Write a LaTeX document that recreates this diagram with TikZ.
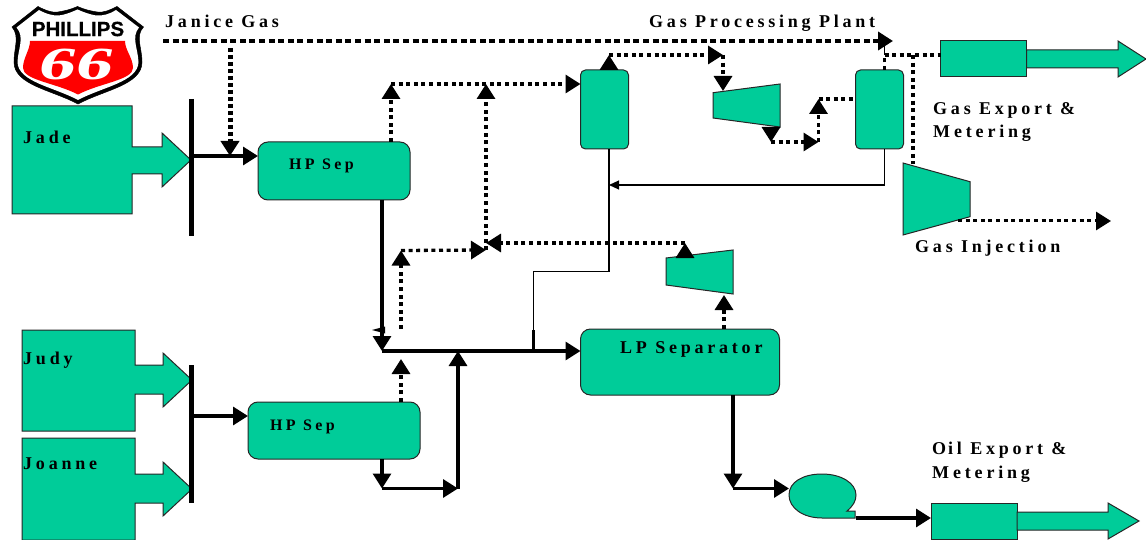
\documentclass[tikz,border=0pt]{standalone}
\usepackage{fontspec}
\setmainfont{Liberation Serif}
\newfontfamily\lblfont[LetterSpace=21,Ligatures=NoCommon]{Liberation Serif Bold}
\newfontfamily\logofont[FakeBold=0.6]{Liberation Sans Bold}
\newfontfamily\logonumfont{Liberation Serif Bold}
\usetikzlibrary{arrows.meta,calc}
\definecolor{eqgreen}{HTML}{00CC99}
\definecolor{logored}{HTML}{FF0000}
\tikzset{
  eq/.style={draw=black!85,fill=eqgreen,line width=1pt},
  tank/.style={eq,rounded corners=5pt,inner sep=0pt,outer sep=0pt},
  sepbox/.style={eq,rounded corners=10pt,inner sep=0pt,outer sep=0pt},
  plainbox/.style={eq,sharp corners,inner sep=0pt,outer sep=0pt},
  hd/.style={-{Triangle[length=15pt,width=18pt]}},
  solidpipe/.style={line width=3.2pt,hd},
  dotpipe/.style={line width=3.3pt,dash pattern=on 4pt off 3.6pt,hd},
  dotplain/.style={line width=3.3pt,dash pattern=on 4pt off 3.6pt},
  thinpipe/.style={line width=1.1pt},
  lbl/.style={anchor=base west,inner sep=0pt,font=\lblfont\fontsize{18}{20}\selectfont},
  lblsm/.style={anchor=base west,inner sep=0pt,font=\lblfont\fontsize{16}{18}\selectfont},
}
\begin{document}
\begin{tikzpicture}[x=1pt,y=-1pt]
\useasboundingbox (0,0) rectangle (1146,540);
% logo
\filldraw[black,line width=0.5pt] (38,6.5) .. controls (46,11) and (54,13) .. (58,12) .. controls (65,11) and (72,9) .. (77.5,6.5)
 .. controls (83,9) and (90,11) .. (97,12) .. controls (104,13) and (110,10) .. (117,6.5)
 -- (143.5,27) .. controls (135,36) and (142,48) .. (142,62) .. controls (142,85) and (104,90) .. (78,104)
 .. controls (52,90) and (14,85) .. (14,62) .. controls (14,48) and (20,36) .. (12,27) -- cycle;
\fill[white] (39,10) .. controls (46,14) and (54,16) .. (59,15.5) .. controls (66,14.5) and (72,12) .. (77.5,9.5)
 .. controls (83,12) and (90,14.5) .. (96,15.5) .. controls (103,16) and (110,14) .. (116,10)
 -- (139,27.5) .. controls (131,37) and (138,49) .. (138.5,62) .. controls (138,82) and (102,87) .. (78,100)
 .. controls (54,87) and (18,82) .. (17.5,62) .. controls (18,49) and (25,37) .. (16.5,27.5) -- cycle;
\fill[logored] (30,41) -- (125,41) .. controls (125,50) and (133,58) .. (133,68) .. controls (133,80) and (100,83) .. (78,94.5)
 .. controls (56,83) and (23,80) .. (23,68) .. controls (23,58) and (30,50) .. (30,41) -- cycle;
\node[inner sep=0pt,font=\logofont\fontsize{20.5}{22}\selectfont] (logotext) at (78,29) {PHILLIPS};
\node[inner sep=0pt,text=white,xslant=0.25,xscale=1.6,transform shape,font=\logonumfont\fontsize{46}{46}\selectfont] (logonum) at (77.5,64) {66};
% feed block arrows
\draw[eq,line join=miter] (12,106) -- (132,106) -- (132,147) -- (162,147) -- (162,133) -- (191,160) -- (162,187) -- (162,174) -- (132,174) -- (132,214) -- (12,214) -- cycle;
\draw[eq] (22,330) -- (135,330) -- (135,365) -- (163,365) -- (163,353) -- (192,380) -- (163,407) -- (163,394) -- (135,394) -- (135,431) -- (22,431) -- cycle;
\draw[eq] (22,438) -- (135,438) -- (135,474) -- (163,474) -- (163,462) -- (192,489) -- (163,516) -- (163,503) -- (135,503) -- (135,540) -- (22,540) -- cycle;
% manifolds
\coordinate (barAt) at (191.5,99); \coordinate (barAb) at (191.5,236);
\coordinate (barBt) at (191.5,365); \coordinate (barBb) at (191.5,503);
\draw[line width=5pt] (barAt) -- (barAb);
\draw[line width=5pt] (barBt) -- (barBb);
% vessels
\node[sepbox,minimum width=152pt,minimum height=58pt] (hpa) at (334,171) {};
\node[sepbox,minimum width=172pt,minimum height=57pt] (hpb) at (334,430.5) {};
\node[sepbox,minimum width=199pt,minimum height=66pt] (lps) at (680,362) {};
\node[tank,minimum width=48pt,minimum height=79pt] (vl) at (604.5,109.5) {};
\node[tank,minimum width=48pt,minimum height=79pt] (vr) at (879.5,109.5) {};
% compressors
\draw[eq] (713,92.7) -- (780,84) -- (780,127) -- (713,118) -- cycle;
\draw[eq] (903,163) -- (970,181.7) -- (970,216.7) -- (903,235) -- cycle;
\draw[eq] (666,258) -- (733,250) -- (733,294) -- (666,285) -- cycle;
% pump
\draw[eq] (855,518) -- (822,518) .. controls (803,518) and (789,508) .. (789,495) .. controls (789,482) and (803,474) .. (822,474)
 .. controls (841,474) and (856,483) .. (856,495) .. controls (856,501) and (853,506) .. (847,511) -- (855,511) -- cycle;
% export boxes
\node[plainbox,minimum width=86pt,minimum height=36pt] (gex) at (983.5,58.5) {};
\draw[eq] (1026.5,50) -- (1118,50) -- (1118,41) -- (1146,59) -- (1118,77) -- (1118,68) -- (1026.5,68) -- cycle;
\node[plainbox,minimum width=86pt,minimum height=36pt] (oex) at (974,521) {};
\draw[eq] (1017,512) -- (1108,512) -- (1108,503) -- (1139,521) -- (1108,539) -- (1108,530) -- (1017,530) -- cycle;
% junctions
\coordinate (jgs) at (163,41); \coordinate (jge) at (893,41);
\coordinate (jb1) at (230,48); \coordinate (jb2) at (230,156);
\coordinate (ma) at (192,156); \coordinate (mb) at (192,416);
\coordinate (a1) at (391,84); \coordinate (a2) at (486,84);
\coordinate (d1) at (401,329); \coordinate (d2) at (401,250.5); \coordinate (d3) at (486,250);
\coordinate (d4) at (486,243);
\coordinate (k3) at (685,243);
\coordinate (main) at (382,351); \coordinate (mid) at (458,351); \coordinate (tee) at (533.5,351);
\coordinate (tee1) at (533.5,330); \coordinate (tee2) at (533.5,271.5); \coordinate (tee3) at (609,271.5);
\coordinate (q1) at (382,488.5); \coordinate (q2) at (458,488.5);
\coordinate (t1) at (609,55); \coordinate (t2) at (723,55); \coordinate (t3) at (723,91);
\coordinate (u1) at (771,127); \coordinate (u2) at (771,142); \coordinate (u3) at (818.5,142); \coordinate (u4) at (818.5,99);
\coordinate (r1) at (884.5,55); \coordinate (r2) at (913,55); \coordinate (r3) at (913,164);
\coordinate (ret) at (884.5,185); \coordinate (retv) at (609,185);
\coordinate (inj1) at (958,221); \coordinate (inj2) at (1111,221);
\coordinate (o1) at (733,488.5); \coordinate (o2) at (789,488.5);
\coordinate (p1) at (856,518); \coordinate (k3in) at (724,295);
\coordinate (k3top) at (685,258);
% pipes
\draw[dotpipe,line width=4pt,dash pattern=on 6pt off 3.6pt] (jgs) -- (jge);
\draw[dotpipe,line width=5pt,dash pattern=on 4pt off 3pt] (jb1) -- (jb2);
\draw[solidpipe] (ma) -- (hpa.west |- ma);
\draw[solidpipe] (mb) -- (hpb.west |- mb);
\draw[dotpipe] (a1 |- hpa.north) -- (a1);
\draw[dotpipe] (a1) -- (vl.west |- a1);
\draw[dotplain] (d3) -- (a2 |- d4);
\draw[dotpipe] (d4) -- (a2);
\draw[dotpipe] (d1) -- (d2);
\draw[dotpipe] (d2) -- (d3);
\draw[dotpipe] (k3) -- (d4);
\draw[dotpipe] (k3in |- lps.north) -- (k3in);
\draw[dotpipe] (k3top) -- (k3);
\draw[solidpipe] (main |- hpa.south) -- (main);
\fill (372,330) -- (385,326.5) -- (385,333.5) -- cycle;
\draw[solidpipe] (main) -- (lps.west |- main);
\draw[line width=3pt] (tee) -- (tee1);
\draw[line width=1.3pt] (tee1) -- (tee2) -- (tee3) -- (tee3 |- vl.south);
\draw[solidpipe] (q2) -- (mid);
\draw[dotpipe] (d1 |- hpb.north) -- (401,359);
\draw[solidpipe] (q1 |- hpb.south) -- (q1);
\draw[solidpipe] (q1) -- (q2);
\draw[solidpipe] (o1 |- lps.south) -- (o1);
\draw[solidpipe] (o1) -- (o2);
\draw[solidpipe] (p1) -- (oex.west |- p1);
\draw[dotpipe] (t1 |- vl.north) -- (t1);
\draw[dotpipe] (t1) -- (t2);
\draw[dotpipe] (t2) -- (t3);
\draw[dotpipe] (u1) -- (u2);
\draw[dotpipe] (u2) -- (u3);
\draw[dotpipe] (u3) -- (u4);
\draw[dotplain] (u4) -- (vr.west |- u4);
\draw[thinpipe] (r1) -- (r1 |- jge);
\draw[dotplain] (r1 |- vr.north) -- (r1);
\draw[dotplain] (r1) -- (gex.west |- r1);
\draw[dotplain] (r2) -- (r3);
\draw[thinpipe,-{Triangle[length=10pt,width=9pt]}] (ret |- vr.south) -- (ret) -- (retv);
\draw[dotpipe,line width=3pt] (inj1) -- (inj2);
% labels
\node[lbl] (tjan) at (165,28) {Janice Gas};
\node[lbl] (tgpp) at (649,28) {Gas Processing Plant};
\node[lbl] (tgex) at (933,115) {Gas Export \&};
\node[lbl] (tgm) at (933,138) {M\hspace{4pt}etering};
\node[lbl] (tinj) at (915,252) {Gas Injection};
\node[lbl] (tjade) at (23,144) {Jade};
\node[lbl] (tjudy) at (23,364) {Judy};
\node[lbl] (tjoa) at (23,469) {Joanne};
\node[lblsm] (thpa) at (289,170) {HP Sep};
\node[lblsm] (thpb) at (270,430) {HP Sep};
\node[lbl] (tlps) at (620,353) {LP Separator};
\node[lbl] (toil) at (932,454) {O\hspace{2pt}il Export \&};
\node[lbl] (tom) at (932,478) {M\hspace{4pt}etering};
\end{tikzpicture}
\end{document}
